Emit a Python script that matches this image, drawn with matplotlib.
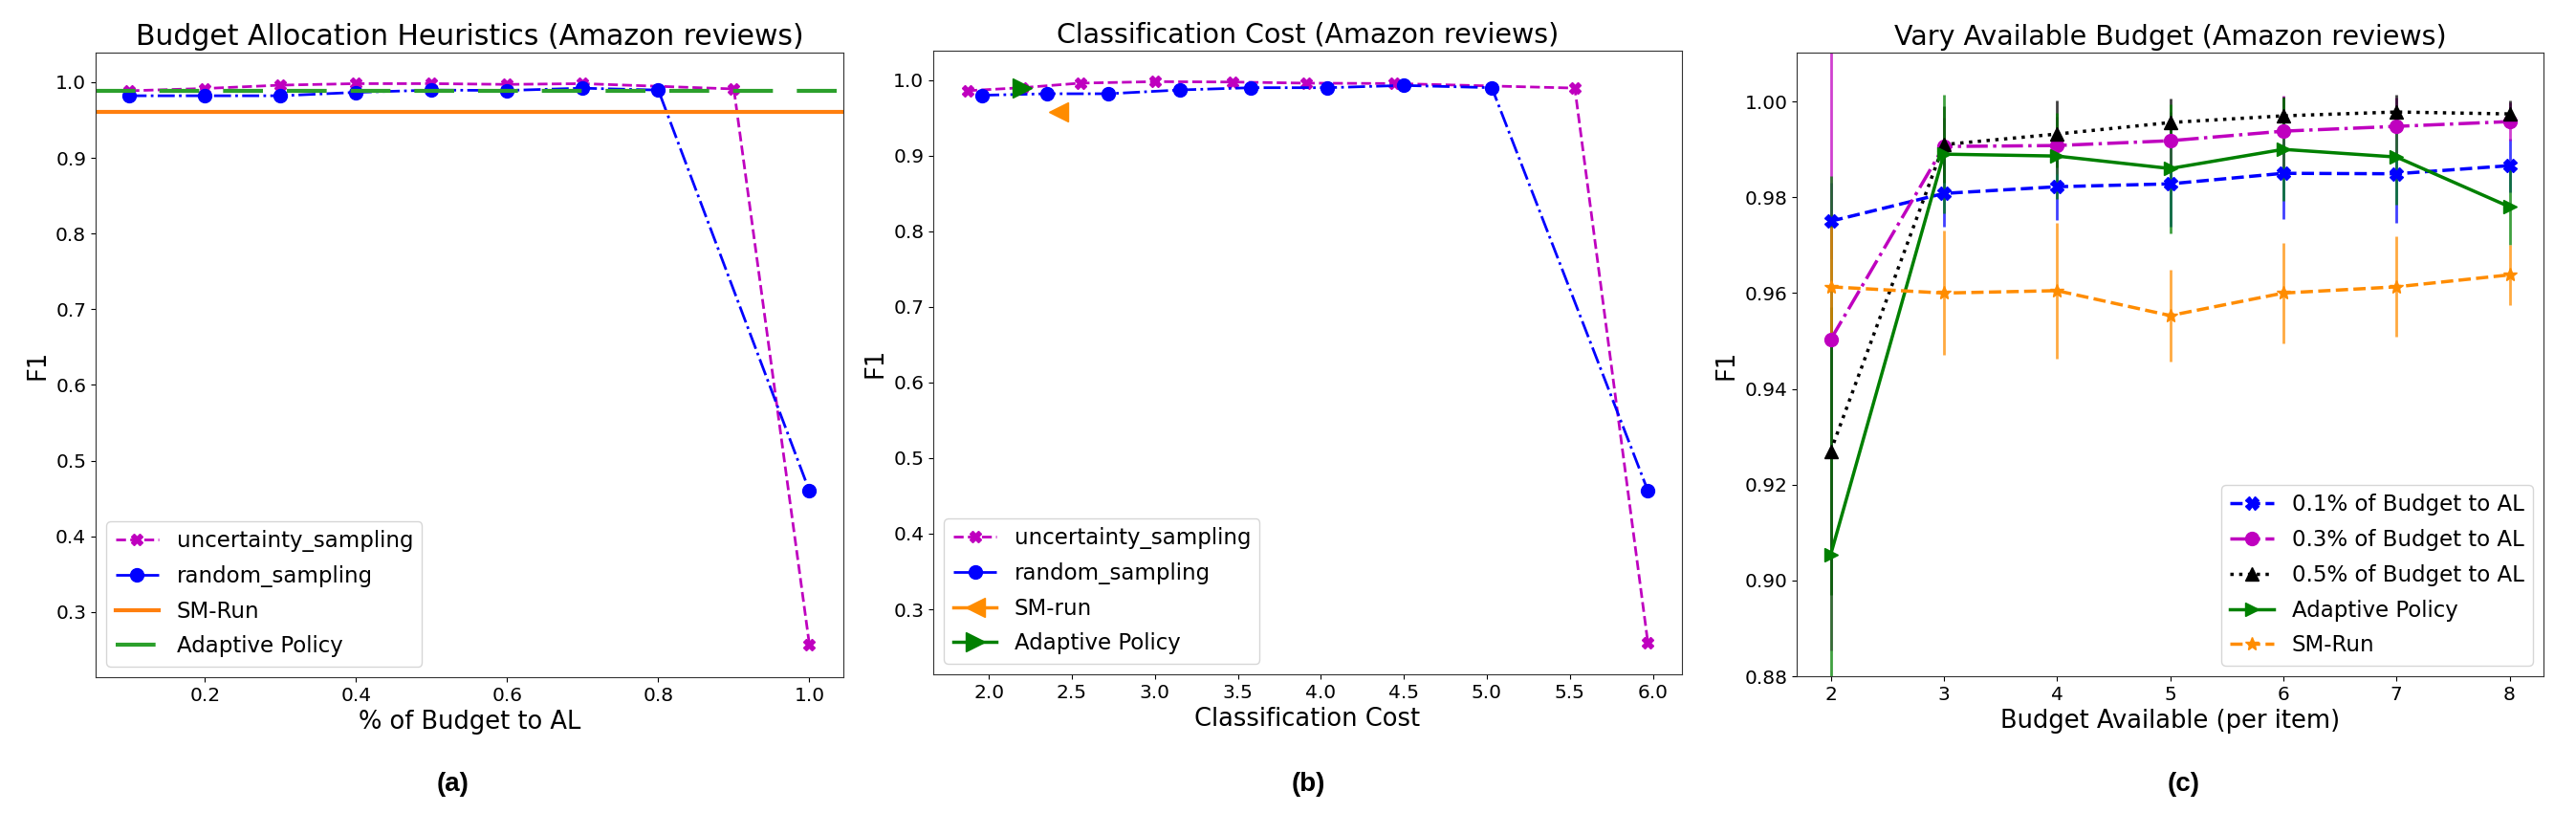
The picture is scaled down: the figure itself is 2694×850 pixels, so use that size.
import matplotlib
matplotlib.use("Agg")
import matplotlib.pyplot as plt
from matplotlib.ticker import MultipleLocator

# --- Panel (a): share of budget given to active learning ---
unc_a_x = [0.1, 0.2, 0.3, 0.4, 0.5, 0.6, 0.7, 0.9, 1.0]
unc_a_y = [0.9886, 0.9916, 0.996, 0.998, 0.998, 0.997, 0.998, 0.991, 0.257]
rand_a_x = [0.1, 0.2, 0.3, 0.4, 0.5, 0.6, 0.7, 0.8, 1.0]
rand_a_y = [0.982, 0.982, 0.982, 0.9865, 0.9895, 0.989, 0.992, 0.9895, 0.46]
sm_run_a = 0.961
adaptive_a = 0.9886

# --- Panel (b): classification cost ---
unc_b_x = [1.87, 2.20, 2.55, 3.00, 3.47, 3.91, 4.44, 5.53, 5.97]
unc_b_y = [0.986, 0.990, 0.996, 0.998, 0.9975, 0.996, 0.9955, 0.9895, 0.256]
rand_b_x = [1.96, 2.35, 2.72, 3.15, 3.58, 4.04, 4.50, 5.03, 5.97]
rand_b_y = [0.980, 0.982, 0.982, 0.987, 0.990, 0.990, 0.993, 0.990, 0.457]
sm_run_b = ([2.42], [0.9575])
adaptive_b = ([2.20], [0.990])

# --- Panel (c): available budget per item ---
budget = [2, 3, 4, 5, 6, 7, 8]
al01 = [0.975, 0.9808, 0.9822, 0.9828, 0.985, 0.9849, 0.9866]
al01_err = [0.008, 0.007, 0.007, 0.009, 0.0096, 0.0102, 0.0056]
al03 = [0.9503, 0.9906, 0.9908, 0.9918, 0.9938, 0.9948, 0.9958]
al03_err = [0.065, 0.006, 0.006, 0.006, 0.0074, 0.006, 0.004]
al05 = [0.927, 0.991, 0.9932, 0.9956, 0.997, 0.9978, 0.9974]
al05_err = [0.03, 0.008, 0.007, 0.005, 0.004, 0.0037, 0.0028]
adaptive_c = [0.9054, 0.989, 0.9886, 0.986, 0.990, 0.9884, 0.978]
adaptive_c_err = [0.079, 0.0124, 0.009, 0.0135, 0.0108, 0.01, 0.008]
sm_run_c = [0.9613, 0.960, 0.9605, 0.9553, 0.960, 0.9613, 0.9638]
sm_run_c_err = [0.0125, 0.013, 0.0142, 0.0096, 0.0105, 0.0105, 0.0063]

TICK = 14.5
LABEL = 18.5
LEG = 16.5

fig = plt.figure(figsize=(26.94, 8.5), dpi=100)
ax1 = fig.add_axes([0.0371, 0.1671, 0.2903, 0.7682])
ax2 = fig.add_axes([0.3623, 0.1706, 0.2906, 0.7671])
ax3 = fig.add_axes([0.6975, 0.1682, 0.2899, 0.7671])

# (a)
ax1.plot(unc_a_x, unc_a_y, 'm--', marker='X', ms=9, lw=2, label='uncertainty_sampling')
ax1.plot(rand_a_x, rand_a_y, 'b-.', marker='o', ms=10, lw=2, label='random_sampling')
ax1.axhline(sm_run_a, color='#ff7f0e', lw=3, label='SM-Run')
ax1.axhline(adaptive_a, color='#2ca02c', lw=3, dashes=(10, 6), label='Adaptive Policy')
ax1.set_ylim(0.214, 1.039)
ax1.set_title('Budget Allocation Heuristics (Amazon reviews)', fontsize=21.5)
ax1.set_xlabel('% of Budget to AL', fontsize=LABEL)
ax1.set_ylabel('F1', fontsize=LABEL)
ax1.legend(loc='lower left', fontsize=LEG, labelspacing=0.6)

# (b)
ax2.plot(unc_b_x, unc_b_y, 'm--', marker='X', ms=9, lw=2, label='uncertainty_sampling')
ax2.plot(rand_b_x, rand_b_y, 'b-.', marker='o', ms=10, lw=2, label='random_sampling')
ax2.plot(*sm_run_b, color='darkorange', marker='<', ms=14, lw=2.5, label='SM-run')
ax2.plot(*adaptive_b, color='green', marker='>', ms=14, lw=2.5, label='Adaptive Policy')
ax2.set_ylim(0.214, 1.039)
ax2.xaxis.set_major_locator(MultipleLocator(0.5))
ax2.set_title('Classification Cost (Amazon reviews)', fontsize=20.5)
ax2.set_xlabel('Classification Cost', fontsize=LABEL)
ax2.set_ylabel('F1', fontsize=LABEL)
ax2.legend(loc='lower left', fontsize=LEG, labelspacing=0.6)

# (c)
series_c = [
    (al01, al01_err, 'b', '--', 'X', '0.1% of Budget to AL'),
    (al03, al03_err, 'm', '-.', 'o', '0.3% of Budget to AL'),
    (al05, al05_err, 'k', ':', '^', '0.5% of Budget to AL'),
    (adaptive_c, adaptive_c_err, 'green', '-', '>', 'Adaptive Policy'),
    (sm_run_c, sm_run_c_err, 'darkorange', '--', '*', 'SM-Run'),
]
handles = []
for y, err, col, ls, mk, lab in series_c:
    eb = ax3.errorbar(budget, y, yerr=err, color=col, ls=ls, marker=mk, ms=10,
                      lw=2.5, elinewidth=2, capsize=0, label=lab)
    for coll in eb[2]:
        coll.set_alpha(0.75)
    handles.append(eb[0])
ax3.set_ylim(0.88, 1.0102)
ax3.set_title('Vary Available Budget (Amazon reviews)', fontsize=20.5)
ax3.set_xlabel('Budget Available (per item)', fontsize=LABEL)
ax3.set_ylabel('F1', fontsize=LABEL)
ax3.legend(handles, [s[-1] for s in series_c], loc='lower right',
           fontsize=LEG, labelspacing=0.6)

for ax in (ax1, ax2, ax3):
    ax.tick_params(labelsize=TICK)
    for sp in ax.spines.values():
        sp.set_color('#333333')

for xc, txt in [(0.1758, '(a)'), (0.5078, '(b)'), (0.8478, '(c)')]:
    fig.text(xc, 0.0353, txt, ha='center', va='center', fontsize=20,
             fontweight='bold', family=['Liberation Sans', 'DejaVu Sans'])

fig.savefig('out.png', dpi=100)
